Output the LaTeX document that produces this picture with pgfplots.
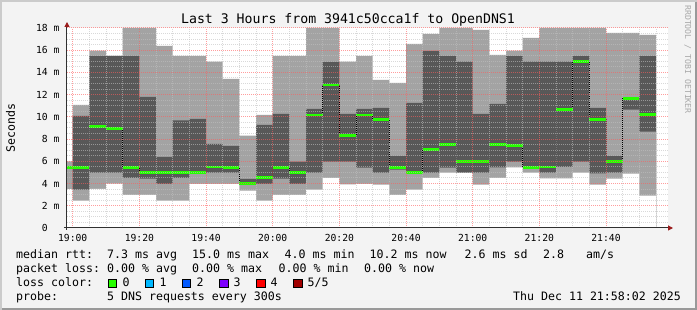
\documentclass[border=0pt]{standalone}
\usepackage{fontspec}
\setmainfont{DejaVu Sans Mono}
\usepackage{pgfplots}
\pgfplotsset{compat=1.18}
\usepackage{pgfplotstable}
\usetikzlibrary{arrows.meta}

\definecolor{canvas}{HTML}{F3F3F3}
\definecolor{shadea}{HTML}{CBCBCB}
\definecolor{shadeb}{HTML}{999999}
\definecolor{lgray}{HTML}{A3A3A3}
\definecolor{dgray}{HTML}{585858}
\definecolor{medgreen}{HTML}{26FF00}
\definecolor{mgrid}{HTML}{FF5C5C}
\definecolor{mingrid}{HTML}{C0C0C0}
\definecolor{arrowc}{HTML}{9B1B1B}
\definecolor{axisc}{HTML}{303030}
\definecolor{wmark}{HTML}{A8A8A8}
\definecolor{lc0}{HTML}{26FF00}
\definecolor{lc1}{HTML}{00B8FF}
\definecolor{lc2}{HTML}{0059FF}
\definecolor{lc3}{HTML}{7E00FF}
\definecolor{lc4}{HTML}{FF0000}
\definecolor{lc5}{HTML}{A10000}

% t = minutes after 19:00; lt/lb = min/max ping band, dt/db = inner band, med = median (ms)
\pgfplotstableread{
t      lt     dt     med    db     lb
-1.71  6.00   5.46   5.46   5.46   3.50
0      11.07  10.08  5.46   3.45   2.46
5      15.96  15.48  9.12   4.98   3.51
10     15.48  15.48  8.94   4.98   3.99
15     18.00  15.48  5.46   4.50   2.97
20     18.00  11.79  4.98   4.44   2.97
25     16.38  6.39   4.98   3.96   2.46
30     15.48  9.69   4.98   4.50   2.46
35     15.48  9.81   4.98   4.98   3.96
40     14.97  7.56   5.49   4.98   3.96
45     13.41  7.38   5.43   4.98   3.96
50     8.31   4.41   3.99   3.93   3.36
55     10.17  9.27   4.53   3.96   2.46
60     15.48  10.26  5.46   4.44   2.97
65     15.48  5.97   4.98   3.96   2.97
70     18.00  10.71  10.17  4.98   3.45
75     18.00  14.94  12.87  5.97   4.50
80     14.97  10.26  8.34   5.97   3.93
85     15.48  10.71  10.17  5.43   3.96
90     13.32  10.80  9.78   4.98   3.90
95     13.05  6.48   5.46   5.25   2.97
100    16.56  11.25  4.98   4.98   3.45
105    17.46  15.93  7.08   4.98   4.50
110    18.00  15.48  7.50   5.43   4.98
115    18.00  14.97  5.97   4.98   4.95
120    17.82  10.26  5.97   4.98   3.90
125    15.57  11.16  7.53   5.46   4.50
130    15.96  15.48  7.41   5.97   5.46
135    17.10  14.97  5.46   5.40   4.98
140    18.00  14.97  5.49   4.98   4.47
145    18.00  14.97  10.68  5.49   4.47
150    18.00  15.48  14.97  5.97   4.98
155    18.00  10.80  9.78   4.92   3.90
160    17.55  6.48   5.97   4.98   4.44
165    17.55  11.67  11.67  10.65  4.89
170    17.37  15.48  10.23  8.67   2.91
175    17.37  15.48  10.23  8.67   2.91
}\smoke

\newcommand\legfont{\fontsize{11.6}{13}\selectfont}
\newcommand\legtext[3]{\node[font=\legfont, anchor=base west, inner sep=0pt] at (#1pt,#2pt) {#3};}

\begin{document}
\begin{tikzpicture}
\fill[canvas] (0,0) rectangle (697pt,310pt);
\fill[shadea] (0,0) rectangle (2pt,310pt);
\fill[shadea] (0,308pt) rectangle (697pt,310pt);
\fill[shadeb] (695pt,0) rectangle (697pt,308pt);
\fill[shadeb] (2pt,0) rectangle (697pt,2pt);

\begin{axis}[
  at={(67pt,82pt)}, anchor=south west,
  scale only axis, width=601pt, height=200pt,
  xmin=-1.71, xmax=178.6, ymin=0, ymax=18,
  axis background/.style={fill=white},
  axis on top,
  axis lines=left,
  axis line style={draw=axisc, line width=1pt},
  x axis line style={-{Triangle[length=5pt,width=5pt,color=arrowc]}, shorten >=-5pt, shorten <=-3pt},
  y axis line style={-{Triangle[length=5pt,width=5pt,color=arrowc]}, shorten >=-6pt, shorten <=-2pt},
  xtick={0,20,...,160},
  xticklabels={19:00,19:20,19:40,20:00,20:20,20:40,21:00,21:20,21:40},
  minor xtick={5,10,15,25,30,35,45,50,55,65,70,75,85,90,95,105,110,115,125,130,135,145,150,155,165,170,175},
  ytick={0,2,...,18},
  yticklabels={0\hphantom{ m},2 m,4 m,6 m,8 m,10 m,12 m,14 m,16 m,18 m},
  minor y tick num=3,
  grid=both,
  major grid style={mgrid, opacity=0.6, dash pattern=on 1pt off 1pt, line width=1pt},
  minor grid style={mingrid, opacity=0.6, dash pattern=on 1pt off 1pt, line width=1pt},
  major tick length=0pt, minor tick length=0pt,
  tick label style={font=\fontsize{9.7}{11}\selectfont, inner sep=0pt},
  xticklabel style={anchor=north, yshift=-6pt},
  yticklabel style={anchor=east, xshift=-7.4pt},
]
\addplot[const plot, fill=lgray, draw=none] table[x=t,y=lt]{\smoke} \closedcycle;
\addplot[const plot, fill=dgray, draw=none] table[x=t,y=dt]{\smoke} \closedcycle;
\addplot[const plot, fill=lgray, draw=none] table[x=t,y=db]{\smoke} \closedcycle;
\addplot[const plot, fill=white, draw=none] table[x=t,y=lb]{\smoke} \closedcycle;
\addplot[const plot, black, dash pattern=on 1pt off 1pt, line width=0.8pt] table[x=t,y=med]{\smoke};
\addplot[jump mark left, medgreen, line width=2.6pt] table[x=t,y=med]{\smoke};
\end{axis}

\node[font=\fontsize{13.2}{15}\selectfont, anchor=base, inner sep=0pt] at (348pt,286.5pt) {Last 3 Hours from 3941c50cca1f to OpenDNS1};
\node[font=\legfont, rotate=90, anchor=base, inner sep=0pt] at (15pt,182pt) {Seconds};
\node[font=\fontsize{8.2}{9}\selectfont, text=wmark, rotate=-90, anchor=base west, inner sep=0pt] at (685pt,305pt) {RRDTOOL / TOBI OETIKER};

\legtext{16}{51.5}{median rtt:}
\legtext{107}{51.5}{7.3 ms avg}
\legtext{192}{51.5}{15.0 ms max}
\legtext{284.5}{51.5}{4.0 ms min}
\legtext{369.5}{51.5}{10.2 ms now}
\legtext{464.5}{51.5}{2.6 ms sd}
\legtext{543}{51.5}{2.8}
\legtext{586}{51.5}{am/s}

\legtext{16}{37.5}{packet loss:}
\legtext{107}{37.5}{0.00 \% avg}
\legtext{192}{37.5}{0.00 \% max}
\legtext{278.5}{37.5}{0.00 \% min}
\legtext{364}{37.5}{0.00 \% now}

\legtext{16}{23.5}{loss color:}
\draw[black, line width=0.8pt, fill=lc0] (108pt,23pt) rectangle (116.5pt,31pt);
\draw[black, line width=0.8pt, fill=lc1] (145pt,23pt) rectangle (153.5pt,31pt);
\draw[black, line width=0.8pt, fill=lc2] (182pt,23pt) rectangle (190.5pt,31pt);
\draw[black, line width=0.8pt, fill=lc3] (219.5pt,23pt) rectangle (228pt,31pt);
\draw[black, line width=0.8pt, fill=lc4] (256.5pt,23pt) rectangle (265pt,31pt);
\draw[black, line width=0.8pt, fill=lc5] (293.5pt,23pt) rectangle (302pt,31pt);
\legtext{122.5}{23.5}{0}
\legtext{159.5}{23.5}{1}
\legtext{196.5}{23.5}{2}
\legtext{233.5}{23.5}{3}
\legtext{270.5}{23.5}{4}
\legtext{307.5}{23.5}{5/5}

\legtext{16}{9.5}{probe:}
\legtext{107}{9.5}{5 DNS requests every 300s}
\node[font=\legfont, anchor=base east, inner sep=0pt] at (681pt,9.5pt) {Thu Dec 11 21:58:02 2025};

\pgfresetboundingbox
\useasboundingbox (0,0) rectangle (697pt,310pt);
\end{tikzpicture}
\end{document}
